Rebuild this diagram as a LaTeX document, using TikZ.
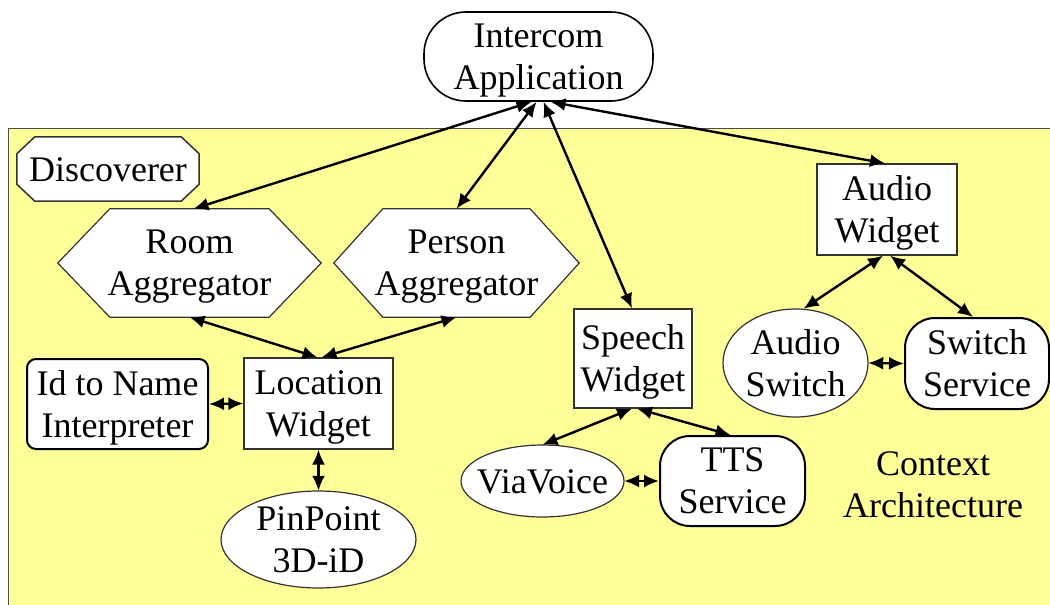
\documentclass[tikz,border=0pt]{standalone}
\usepackage{fontspec}
\setmainfont{Liberation Serif}
\newfontfamily\timesfont{Liberation Serif}
\usetikzlibrary{arrows.meta,calc}
\definecolor{yellowbg}{HTML}{FFFF99}
\pgfdeclarelayer{back}
\pgfdeclarelayer{mid}
\pgfsetlayers{back,mid,main}
\begin{document}
\begin{tikzpicture}[x=1pt,y=-1pt,
  every node/.style={font=\timesfont\fontsize{36}{42}\selectfont, align=center, inner sep=0pt, text depth=0pt},
  rectbox/.style={draw=black!80, line width=1.2pt, fill=white},
  roundbox/.style={draw=black, line width=2pt, fill=white, rounded corners=#1},
  outline/.style={draw=black!80, line width=1.2pt, fill=white},
  conn/.style={line width=2.4pt, {Latex[length=15pt,width=13pt]}-{Latex[length=15pt,width=13pt]}}]

\useasboundingbox (0,0) rectangle (1050,605);
\begin{pgfonlayer}{back}
  \draw[fill=yellowbg, draw=black!70, line width=1pt] (8,128) rectangle (1070,625);
\end{pgfonlayer}

\node[roundbox=42pt, line width=1.6pt, minimum width=229pt, minimum height=89pt] (intercom) at (538.5,56.5) {Intercom\\Application};
\node[minimum width=182pt, minimum height=64pt] (disc) at (108,169) {\raisebox{-2pt}{Discoverer}};
\node[minimum width=263pt, minimum height=108pt, text depth=-6pt] (room) at (189.5,263) {Room\\Aggregator};
\node[minimum width=245pt, minimum height=108pt, text depth=-6pt] (person) at (456.5,263) {Person\\Aggregator};
\node[roundbox=9pt, minimum width=181pt, minimum height=90pt] (idname) at (117.5,404) {Id to Name\\Interpreter};
\node[rectbox, minimum width=149pt, minimum height=91pt, text depth=-3pt] (loc) at (318.5,403.5) {Location\\Widget};
\node[minimum width=195pt, minimum height=97pt] (pin) at (318.5,539.5) {PinPoint\\3D-iD};
\node[rectbox, minimum width=118pt, minimum height=99pt] (speech) at (633,358.5) {Speech\\Widget};
\node[minimum width=163pt, minimum height=72pt] (via) at (542.5,481) {\raisebox{-2pt}{ViaVoice}};
\node[roundbox=30pt, minimum width=145pt, minimum height=90pt] (tts) at (732.5,481) {TTS\\Service};
\node[rectbox, minimum width=140pt, minimum height=91pt] (audio) at (887,209.5) {Audio\\Widget};
\node[minimum width=145pt, minimum height=108pt] (aswitch) at (795.5,363) {Audio\\Switch};
\node[roundbox=30pt, minimum width=144pt, minimum height=91pt] (sservice) at (977,363.5) {Switch\\Service};
\node (context) at (933,485) {Context\\Architecture};

\begin{pgfonlayer}{mid}
  \draw[outline] (room.west) -- ([xshift=52pt]room.north west) -- ([xshift=-52pt]room.north east) -- (room.east) -- ([xshift=-52pt]room.south east) -- ([xshift=52pt]room.south west) -- cycle;
  \draw[outline] (person.west) -- ([xshift=49pt]person.north west) -- ([xshift=-49pt]person.north east) -- (person.east) -- ([xshift=-49pt]person.south east) -- ([xshift=49pt]person.south west) -- cycle;
  \draw[outline, line width=1.5pt] ([xshift=18pt]disc.north west) -- ([xshift=-18pt]disc.north east) -- ([yshift=-17pt]disc.north east) -- ([yshift=17pt]disc.south east) -- ([xshift=-18pt]disc.south east) -- ([xshift=18pt]disc.south west) -- ([yshift=17pt]disc.south west) -- ([yshift=-17pt]disc.north west) -- cycle;
  \draw[outline] (pin.center) ellipse [x radius=97.5pt, y radius=48.5pt];
  \draw[outline] (via.center) ellipse [x radius=81.5pt, y radius=36pt];
  \draw[outline] (aswitch.center) ellipse [x radius=72.5pt, y radius=54pt];
\end{pgfonlayer}

\draw[conn] ([xshift=-7pt]intercom.south) -- ([xshift=4pt]room.north);
\draw[conn] ([xshift=-2pt]intercom.south) -- (person.north);
\draw[conn] ([xshift=5pt]intercom.south) -- ([xshift=-1pt]speech.north);
\draw[conn] ([xshift=12pt]intercom.south) -- ([xshift=-2pt]audio.north);
\draw[conn] (room.south) -- ([xshift=-1pt]loc.north);
\draw[conn] (person.south) -- ([xshift=3pt]loc.north);
\draw[conn] (idname.east) -- (loc.west);
\draw[conn] (loc.south) -- (pin.north);
\draw[conn] ([xshift=-1pt]speech.south) -- (via.north);
\draw[conn] ([xshift=4pt]speech.south) -- ([xshift=-2pt]tts.north);
\draw[conn] (via.east) -- (tts.west);
\draw[conn] ([xshift=-4pt]audio.south) -- ([xshift=8pt]aswitch.north);
\draw[conn] ([xshift=3pt]audio.south) -- ([xshift=-4pt]sservice.north);
\draw[conn] (aswitch.east) -- (sservice.west);
\end{tikzpicture}
\end{document}
